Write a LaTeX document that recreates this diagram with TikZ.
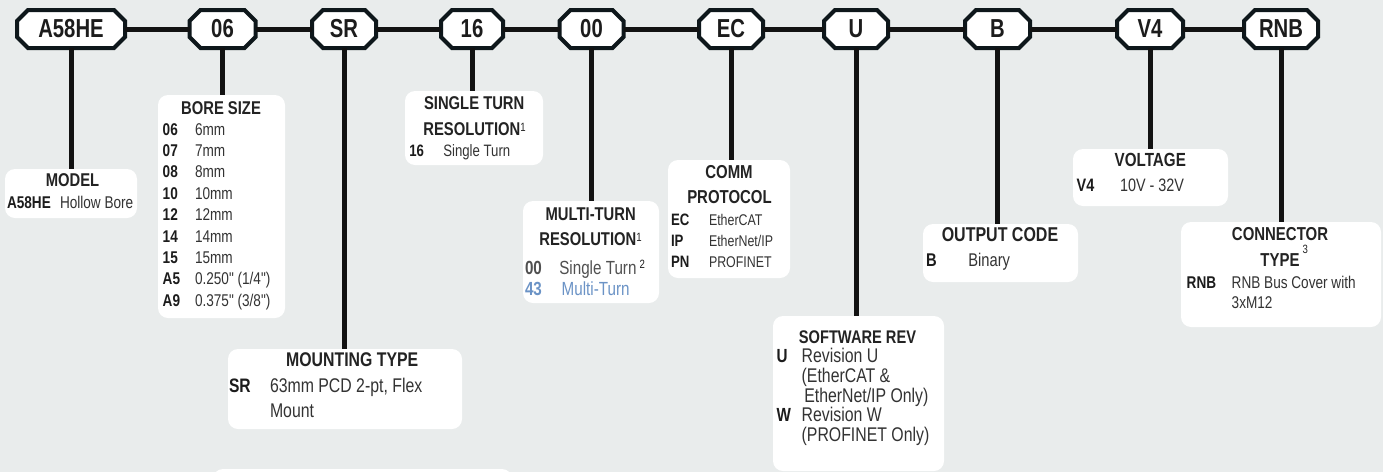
\documentclass[tikz,border=0pt]{standalone}
\usepackage{fontspec}
\newfontfamily\nf{Liberation Sans}[FakeStretch=0.8,Ligatures=TeXOff]
\newfontfamily\tagfnt{Liberation Sans}[FakeStretch=0.78,Ligatures=TeXOff]
\newcommand\myfs[1]{\fontsize{#1}{#1}\selectfont}
\definecolor{bgc}{HTML}{E9ECEC}
\definecolor{linec}{HTML}{121212}
\definecolor{tagc}{HTML}{0E171B}
\definecolor{titlec}{HTML}{232323}
\definecolor{codec}{HTML}{1C1C1C}
\definecolor{descc}{HTML}{333333}
\definecolor{greyc}{HTML}{505050}
\definecolor{bluec}{HTML}{6B93C6}
\tikzset{
  conn/.style={line width=5pt, draw=linec},
  tagline/.style={line width=4pt, draw=tagc, fill=white, line join=miter},
  tagbox/.style={rectangle, inner sep=0pt, outer sep=0pt, minimum height=38pt},
  tagtxt/.style={inner sep=0pt, outer sep=0pt, font=\tagfnt\bfseries\myfs{26}, text=codec},
  ibox/.style={rectangle, fill=white, rounded corners=10pt, inner sep=0pt, outer sep=0pt, anchor=north west},
  ttl/.style={inner sep=0pt, outer sep=0pt, anchor=base, text=titlec, font=\nf\bfseries\myfs{#1}},
  cd/.style={inner sep=0pt, outer sep=0pt, anchor=base west, text=codec, font=\nf\bfseries\myfs{#1}},
  ds/.style={inner sep=0pt, outer sep=0pt, anchor=base west, text=descc, font=\nf\myfs{#1}},
}
\newcommand\mktag[4]{%
  \node[tagbox, minimum width=#3] (#1) at (#2,29) {};
  \draw[tagline] ([xshift=11pt]#1.north west) -- ([xshift=-11pt]#1.north east)
    -- ([yshift=-11pt]#1.north east) -- ([yshift=11pt]#1.south east)
    -- ([xshift=-11pt]#1.south east) -- ([xshift=11pt]#1.south west)
    -- ([yshift=11pt]#1.south west) -- ([yshift=-11pt]#1.north west) -- cycle;
  \node[tagtxt] (#1txt) at (#1.center) {#4};
}
\newcommand\supr[2]{\raisebox{#1}{\fontsize{12}{12}\selectfont\mdseries #2}}
\begin{document}
\begin{tikzpicture}[x=1pt, y=-1pt]
\useasboundingbox (0,0) rectangle (1383,472);
\fill[bgc] (0,0) rectangle (1383,472);

% tags
\mktag{tA}{71}{108pt}{A58HE}
\mktag{tB}{222.5}{66pt}{06}
\mktag{tC}{344}{64pt}{SR}
\mktag{tD}{472}{62pt}{16}
\mktag{tE}{591.5}{64pt}{00}
\mktag{tF}{731}{64pt}{EC}
\mktag{tG}{856}{64pt}{U}
\mktag{tH}{997.5}{65pt}{B}
\mktag{tI}{1150}{66pt}{V4}
\mktag{tJ}{1281}{74pt}{RNB}

\draw[conn] (tA.east) -- (tB.west);
\draw[conn] (tB.east) -- (tC.west);
\draw[conn] (tC.east) -- (tD.west);
\draw[conn] (tD.east) -- (tE.west);
\draw[conn] (tE.east) -- (tF.west);
\draw[conn] (tF.east) -- (tG.west);
\draw[conn] (tG.east) -- (tH.west);
\draw[conn] (tH.east) -- (tI.west);
\draw[conn] (tI.east) -- (tJ.west);

% boxes
\node[ibox, minimum width=132pt, minimum height=49pt] (bModel) at (5,169) {};
\node[ibox, minimum width=127pt, minimum height=223pt] (bBore) at (158,95) {};
\node[ibox, minimum width=138pt, minimum height=74pt] (bSingle) at (405,91) {};
\node[ibox, minimum width=136pt, minimum height=102pt] (bMulti) at (523,201) {};
\node[ibox, minimum width=122pt, minimum height=118pt] (bComm) at (668,160) {};
\node[ibox, minimum width=155pt, minimum height=58pt] (bOut) at (923,224) {};
\node[ibox, minimum width=155pt, minimum height=57pt] (bVolt) at (1073,149) {};
\node[ibox, minimum width=200pt, minimum height=105pt] (bConn) at (1181,222) {};
\node[ibox, minimum width=234pt, minimum height=80pt] (bMount) at (228,349) {};
\node[ibox, minimum width=171pt, minimum height=155pt] (bSoft) at (773,316) {};
\begin{scope}
\clip (0,0) rectangle (1383,472);
\node[ibox, minimum width=299pt, minimum height=40pt] (bNext) at (213,469) {};
\end{scope}

% drop lines
\draw[conn] (tA.south) -- (tA.south |- bModel.north);
\draw[conn] (tB.south) -- (tB.south |- bBore.north);
\draw[conn] (tC.south) -- (tC.south |- bMount.north);
\draw[conn] (tD.south) -- (tD.south |- bSingle.north);
\draw[conn] (tE.south) -- (tE.south |- bMulti.north);
\draw[conn] (tF.south) -- (tF.south |- bComm.north);
\draw[conn] (tG.south) -- (tG.south |- bSoft.north);
\draw[conn] (tH.south) -- (tH.south |- bOut.north);
\draw[conn] (tI.south) -- (tI.south |- bVolt.north);
\draw[conn] (tJ.south) -- (tJ.south |- bConn.north);

% MODEL
\node[ttl=18.5] (m0) at (72.5,186) {MODEL};
\node[cd=17] (m1) at (7,208) {A58HE};
\node[ds=17] (m2) at (60,208) {Hollow Bore};

% BORE SIZE
\node[ttl=18.5] (b0) at (221,114) {BORE SIZE};
\node[cd=17] (b1c) at (162.7,135) {06};    \node[ds=17] (b1d) at (195,135) {6mm};
\node[cd=17] (b2c) at (162.7,156.4) {07};  \node[ds=17] (b2d) at (195,156.4) {7mm};
\node[cd=17] (b3c) at (162.7,177.8) {08};  \node[ds=17] (b3d) at (195,177.8) {8mm};
\node[cd=17] (b4c) at (162.7,199.2) {10};  \node[ds=17] (b4d) at (195,199.2) {10mm};
\node[cd=17] (b5c) at (162.7,220.6) {12};  \node[ds=17] (b5d) at (195,220.6) {12mm};
\node[cd=17] (b6c) at (162.7,242) {14};    \node[ds=17] (b6d) at (195,242) {14mm};
\node[cd=17] (b7c) at (162.7,263.4) {15};  \node[ds=17] (b7d) at (195,263.4) {15mm};
\node[cd=17] (b8c) at (162.7,284.8) {A5};  \node[ds=17] (b8d) at (195,284.8) {0.250" (1/4")};
\node[cd=17] (b9c) at (162.7,306.2) {A9};  \node[ds=17] (b9d) at (195,306.2) {0.375" (3/8")};

% SINGLE TURN
\node[ttl=18.5] (s0) at (474.2,109.3) {SINGLE TURN};
\node[ttl=18.5] (s1) at (474.5,135) {RESOLUTION\supr{4pt}{1}};
\node[cd=16.5] (s2) at (409.3,156) {16};
\node[ds=16.5] (s3) at (443.3,156) {Single Turn};

% MULTI TURN
\node[ttl=18.5] (u0) at (590.7,220) {MULTI-TURN};
\node[ttl=18.5] (u1) at (590.5,245) {RESOLUTION\supr{4pt}{1}};
\node[cd=19, text=greyc] (u2) at (525,274.3) {00};
\node[ds=19, text=greyc] (u3) at (559.3,274.3) {Single Turn\,\raisebox{6pt}{\fontsize{12}{12}\selectfont\color{codec}2}};
\node[cd=19, text=bluec] (u4) at (525,295) {43};
\node[ds=19, text=bluec] (u5) at (561.7,295) {Multi-Turn};

% COMM PROTOCOL
\node[ttl=18.7] (c0) at (729,178.3) {COMM};
\node[ttl=18.7] (c1) at (729.5,203.3) {PROTOCOL};
\node[cd=16.5] (c2c) at (671,225) {EC};  \node[ds=15.5] (c2d) at (709,225) {EtherCAT};
\node[cd=16.5] (c3c) at (671,246.7) {IP};  \node[ds=15.5] (c3d) at (709,246.7) {EtherNet/IP};
\node[cd=16.5] (c4c) at (671,267.7) {PN};  \node[ds=15.5] (c4d) at (709,267.7) {PROFINET};

% OUTPUT CODE
\node[ttl=20] (o0) at (1000,241.7) {OUTPUT CODE};
\node[cd=18.4] (o1) at (926,266.7) {B};
\node[ds=18.4] (o2) at (968.3,266.7) {Binary};

% VOLTAGE
\node[ttl=19] (v0) at (1150.3,166.7) {VOLTAGE};
\node[cd=18] (v1) at (1076.7,191.7) {V4};
\node[ds=18] (v2) at (1120,191.7) {10V - 32V};

% CONNECTOR TYPE
\node[ttl=18.7] (n0) at (1280,240.7) {CONNECTOR};
\node[ttl=18.7] (n1) at (1280,266) {TYPE\rlap{\,\supr{13pt}{3}}};
\node[cd=17] (n2) at (1186.7,288.3) {RNB};
\node[ds=17] (n3) at (1231.7,288.3) {RNB Bus Cover with};
\node[ds=17] (n4) at (1231.7,308.3) {3xM12};

% MOUNTING TYPE
\node[ttl=19.8] (t0) at (352.2,366) {MOUNTING TYPE};
\node[cd=19.5] (t1) at (229,392.7) {SR};
\node[ds=19.8] (t2) at (270,392.7) {63mm PCD 2-pt, Flex};
\node[ds=19.8] (t3) at (270,417.3) {Mount};

% SOFTWARE REV
\node[ttl=18.3] (w0) at (857.5,343.3) {SOFTWARE REV};
\node[cd=19] (w1) at (776.7,362.7) {U};
\node[ds=19.8] (w2) at (801.7,362.7) {Revision U};
\node[ds=19.8] (w3) at (801.7,382.7) {(EtherCAT \&};
\node[ds=19.8] (w4) at (804.3,402.7) {EtherNet/IP Only)};
\node[cd=19] (w5) at (776.7,421.7) {W};
\node[ds=19.8] (w6) at (801.7,421.7) {Revision W};
\node[ds=19.8] (w7) at (801.7,441.7) {(PROFINET Only)};
\end{tikzpicture}
\end{document}
